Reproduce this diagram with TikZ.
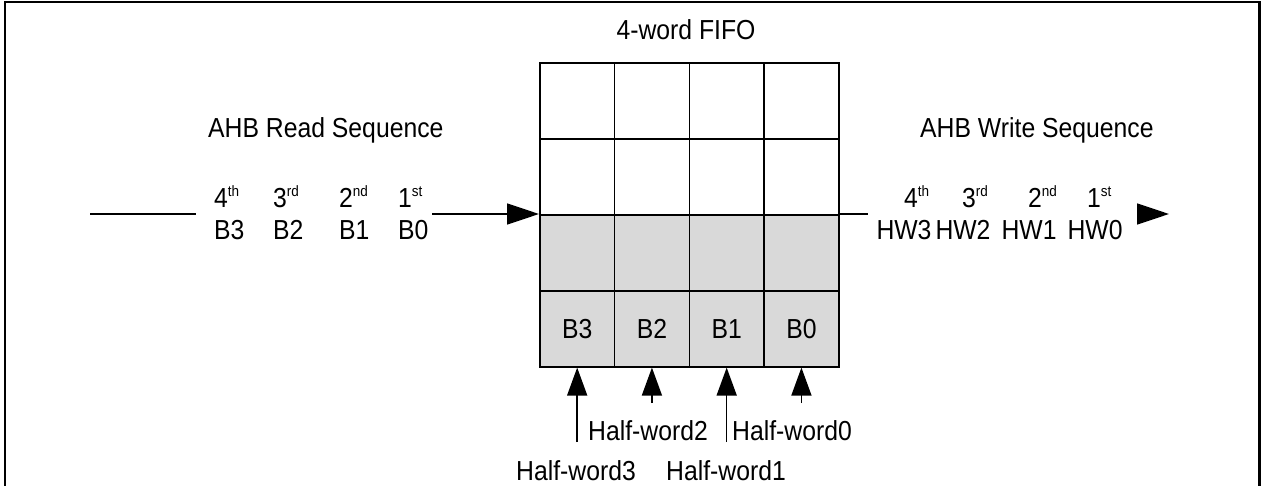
\documentclass[tikz,border=0pt]{standalone}
\usepackage{fontspec}
\setmainfont{Liberation Sans}[FakeStretch=0.9]
\usetikzlibrary{arrows.meta}
\newcommand\supx[1]{\raisebox{11pt}{\fontsize{15}{17}\selectfont #1}}
\begin{document}
\begin{tikzpicture}[x=1pt,y=-1pt,
  lbl/.style={inner sep=0pt, font=\fontsize{27.5}{32}\selectfont},
  cell/.style={draw, line width=1.6pt, minimum width=74.75pt, minimum height=76pt, inner sep=0pt, anchor=north west, font=\fontsize{27.5}{32}\selectfont},
  shadedcell/.style={cell, fill=gray!30},
  conn/.style={line width=1.6pt},
  harrow/.style={conn, -{Triangle[length=32pt,width=21pt]}},
  varrow/.style={conn, -{Triangle[length=28pt,width=20pt]}},
  frameline/.style={line width=2.4pt}]
\useasboundingbox (0,0) rectangle (1265,486);
% frame (open at the bottom)
\draw[frameline] (4.8,486) -- (4.8,2.3) -- (1259.5,2.3) -- (1259.5,486);
% FIFO grid
\foreach \r in {1,2}
  \foreach \c in {1,...,4}
    \node[cell] (c\r\c) at ({539+(\c-1)*74.75},{62+(\r-1)*76}) {};
\foreach \c in {1,...,4}
  \node[shadedcell] (c3\c) at ({539+(\c-1)*74.75},214) {};
\foreach \c/\t in {1/B3,2/B2,3/B1,4/B0}
  \node[shadedcell] (c4\c) at ({539+(\c-1)*74.75},290) {\t};
% titles
\node[lbl, anchor=base] (fifo) at (686,40) {4-word FIFO};
\node[lbl, anchor=base west] (rdseq) at (208,138) {AHB Read Sequence};
\node[lbl, anchor=base west] (wrseq) at (920,138) {AHB Write Sequence};
% read sequence labels
\node[lbl, anchor=base west] (r4) at (214,208) {4\supx{th}};
\node[lbl, anchor=base west] (r3) at (273,208) {3\supx{rd}};
\node[lbl, anchor=base west] (r2) at (339,208) {2\supx{nd}};
\node[lbl, anchor=base west] (r1) at (398,208) {1\supx{st}};
\node[lbl, anchor=base west] (rb3) at (214,240) {B3};
\node[lbl, anchor=base west] (rb2) at (273,240) {B2};
\node[lbl, anchor=base west] (rb1) at (339,240) {B1};
\node[lbl, anchor=base west] (rb0) at (398,240) {B0};
% write sequence labels
\node[lbl, anchor=base west] (w4) at (904,208) {4\supx{th}};
\node[lbl, anchor=base west] (w3) at (962,208) {3\supx{rd}};
\node[lbl, anchor=base west] (w2) at (1028,208) {2\supx{nd}};
\node[lbl, anchor=base west] (w1) at (1087,208) {1\supx{st}};
\node[lbl, anchor=base] (hw3) at (904,240) {HW3};
\node[lbl, anchor=base] (hw2) at (963,240) {HW2};
\node[lbl, anchor=base] (hw1) at (1029,240) {HW1};
\node[lbl, anchor=base] (hw0) at (1095,240) {HW0};
% horizontal connectors
\coordinate (lstart) at (90,214);
\coordinate (lend) at (196,214);
\coordinate (astart) at (432,214);
\coordinate (rend) at (868,214);
\coordinate (hstart) at (1137,214);
\coordinate (htip) at (1169,214);
\draw[conn] (lstart) -- (lend);
\draw[harrow] (astart) -- (c31.north west);
\draw[conn] (c34.north east) -- (rend);
\draw[harrow] (hstart) -- (htip);
% half-word arrows
\coordinate (h3) at (c41.south |- 0,442);
\coordinate (h2) at (c42.south |- 0,403);
\coordinate (h1) at (c43.south |- 0,442);
\coordinate (h0) at (c44.south |- 0,403);
\draw[varrow] (h3) -- (c41.south);
\draw[varrow] (h2) -- (c42.south);
\draw[varrow] (h1) -- (c43.south);
\draw[varrow] (h0) -- (c44.south);
\node[lbl, anchor=base] (lhw3) at (576,480) {Half-word3};
\node[lbl, anchor=base] (lhw1) at (726,480) {Half-word1};
\node[lbl, anchor=base west] (lhw2) at (588,440) {Half-word2};
\node[lbl, anchor=base west] (lhw0) at (732,440) {Half-word0};
\end{tikzpicture}
\end{document}
